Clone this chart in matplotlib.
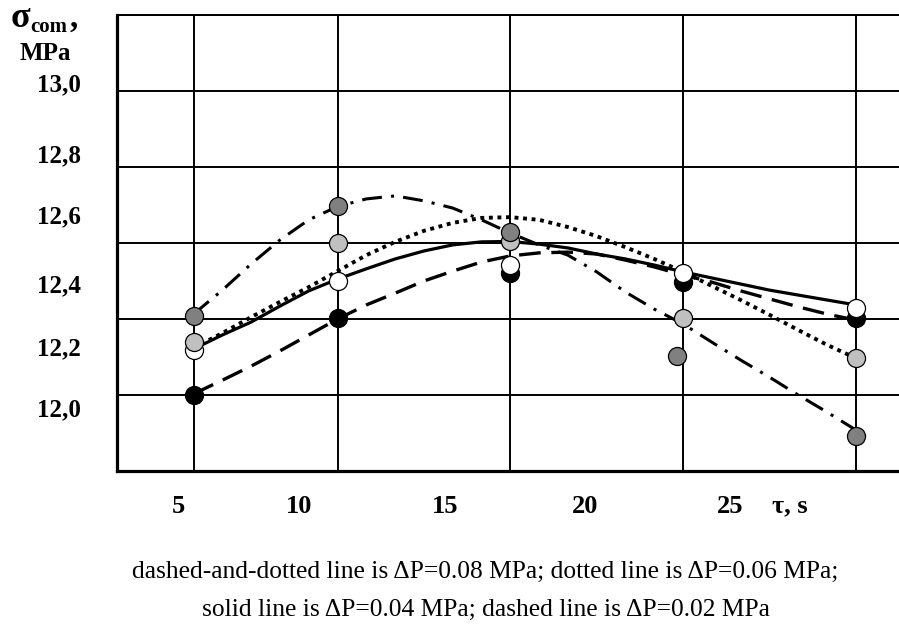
import matplotlib
matplotlib.use("Agg")
import matplotlib.pyplot as plt

# Times of measurement, s (vertical grid lines sit on these)
tau_pts = [5, 10, 16, 22, 28]
tau_pts_008 = [5, 10, 16, 21.8, 28]

# Measured compressive strength, MPa, for each pressure drop
sig_008 = [12.208, 12.497, 12.428, 12.103, 11.893]
sig_006 = [12.139, 12.400, 12.404, 12.202, 12.097]
sig_004 = [12.118, 12.300, 12.342, 12.320, 12.230]
sig_002 = [12.000, 12.203, 12.320, 12.298, 12.202]

# Smoothed trend curves, MPa, sampled every second
tau_curve = list(range(5, 29))
curve_008 = [12.213, 12.276, 12.345, 12.408, 12.461, 12.496, 12.516, 12.524,
             12.511, 12.492, 12.461, 12.426, 12.395, 12.368, 12.324, 12.271,
             12.226, 12.187, 12.139, 12.092, 12.047, 12.000, 11.955, 11.908]
curve_006 = [12.124, 12.163, 12.205, 12.245, 12.284, 12.326, 12.368, 12.403,
             12.432, 12.453, 12.466, 12.468, 12.461, 12.442, 12.418, 12.389,
             12.358, 12.324, 12.287, 12.250, 12.211, 12.171, 12.132, 12.097]
curve_004 = [12.121, 12.158, 12.192, 12.234, 12.274, 12.305, 12.332, 12.358,
             12.379, 12.395, 12.403, 12.404, 12.397, 12.387, 12.371, 12.358,
             12.342, 12.324, 12.308, 12.292, 12.276, 12.263, 12.250, 12.237]
curve_002 = [12.003, 12.039, 12.076, 12.116, 12.158, 12.200, 12.237, 12.268,
             12.300, 12.326, 12.350, 12.366, 12.374, 12.376, 12.371, 12.355,
             12.337, 12.316, 12.297, 12.274, 12.253, 12.232, 12.213, 12.197]

# Horizontal grid levels, MPa
grid_sigma = [12.0, 12.2, 12.4, 12.6, 12.8, 13.0]

# Axis annotations placed along the axes
x_label_pos = [4.49, 8.66, 13.73, 18.59, 23.63, 25.71]
x_labels = ["5", "10", "15", "20", "25", "τ, s"]
y_label_pos = [12.822, 12.637, 12.476, 12.295, 12.129, 11.968]
y_labels = ["13,0", "12,8", "12,6", "12,4", "12,2", "12,0"]

caption_1 = "dashed-and-dotted line is ΔP=0.08 MPa; dotted line is ΔP=0.06 MPa;"
caption_2 = "solid line is ΔP=0.04 MPa; dashed line is ΔP=0.02 MPa"

plt.rcParams["font.family"] = ["Liberation Serif", "DejaVu Serif"]

W, H = 899, 636
fig = plt.figure(figsize=(W / 100, H / 100), dpi=100)
ax = fig.add_axes([117 / W, (H - 471) / H, (W - 117) / W, (471 - 15) / H])
ax.set_xlim(2.34, 29.50)
ax.set_ylim(11.8, 13.0)

# frame
for side in ("left", "bottom"):
    ax.spines[side].set_linewidth(2.3)
ax.spines["top"].set_linewidth(1.4)
ax.spines["right"].set_visible(False)

# grid
for t in tau_pts:
    ax.axvline(t, color="black", lw=1.4, zorder=1)
for s in grid_sigma:
    ax.axhline(s, color="black", lw=1.4, zorder=1)

# trend curves
ax.plot(tau_curve, curve_008, color="black", lw=2.2, dashes=(6.5, 3.0, 1.0, 3.0), zorder=3)
ax.plot(tau_curve, curve_006, color="black", lw=2.8, dashes=(1.0, 1.2), zorder=3)
ax.plot(tau_curve, curve_004, color="black", lw=2.3, zorder=3, solid_capstyle="butt")
ax.plot(tau_curve, curve_002, color="black", lw=2.4, dashes=(6.5, 3.2), zorder=3)

# measured points
mk = dict(linestyle="none", marker="o", markersize=13, markeredgecolor="black",
          markeredgewidth=0.9)
ax.plot(tau_pts, sig_002, markerfacecolor="black", zorder=4, **mk)
ax.plot(tau_pts, sig_004, markerfacecolor="white", zorder=5, **mk)
ax.plot(tau_pts, sig_006, markerfacecolor="#c0c0c0", zorder=6, **mk)
ax.plot(tau_pts_008, sig_008, markerfacecolor="#808080", zorder=7, **mk)

# axis labels
ax.set_xticks(x_label_pos, x_labels, fontsize=19, fontweight="bold")
ax.set_yticks(y_label_pos, y_labels, fontsize=18, fontweight="bold")
ax.tick_params(axis="x", length=0, pad=17)
ax.tick_params(axis="y", length=0, pad=26)

fig.text(11 / W, 1 - 27 / H, "σ", fontsize=26, fontweight="bold", va="baseline", ha="left")
fig.text(30 / W, 1 - 32 / H, "com", fontsize=15, fontweight="bold", va="baseline", ha="left")
fig.text(70 / W, 1 - 27 / H, ",", fontsize=24, fontweight="bold", va="baseline", ha="left")
fig.text(45 / W, 1 - 60 / H, "MPa", fontsize=18, fontweight="bold", va="baseline", ha="center")

# caption
fig.text(485 / W, 1 - 578 / H, caption_1, fontsize=18.4, va="baseline", ha="center")
fig.text(486 / W, 1 - 616 / H, caption_2, fontsize=18.4, va="baseline", ha="center")

fig.savefig("out.png", dpi=100)
